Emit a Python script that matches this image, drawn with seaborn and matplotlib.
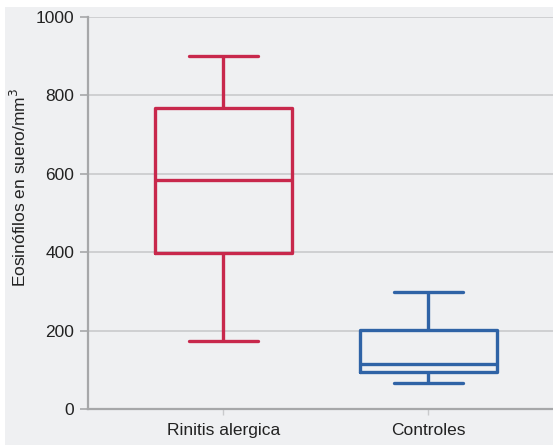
import matplotlib
matplotlib.use('Agg')

import pandas as pd
import matplotlib.pyplot as plt
import seaborn as sns
from matplotlib.patches import Rectangle

# five summary values per group (min, q1, median, q3, max)
groups = ['Rinitis alergica', 'Controles']
rinitis = [173, 398, 584, 768, 900]
controles = [66, 94, 115, 201, 298]
colors = ['#c8284c', '#2f63a6']

df = pd.DataFrame({
    'grupo': [groups[0]] * len(rinitis) + [groups[1]] * len(controles),
    'valor': rinitis + controles,
})

bg = '#eff0f2'
sns.set_theme(style='white')
plt.rcParams['font.family'] = ['Liberation Sans', 'DejaVu Sans']

fig = plt.figure(figsize=(5.53, 4.45), dpi=100, facecolor='white')
fig.add_artist(Rectangle((5 / 553, 0), 1, 1 - 7 / 445, transform=fig.transFigure,
                         facecolor=bg, edgecolor='none', zorder=-10))
ax = fig.add_axes([88 / 553, 36 / 445, 1 - 88 / 553 + 0.001, (409 - 17) / 445])
ax.set_facecolor(bg)

for i, g in enumerate(groups):
    sub = df[df['grupo'] == g]
    sns.boxplot(data=sub, x='grupo', y='valor', order=groups, ax=ax,
                whis=1.5, width=0.67, fill=False, color=colors[i],
                linewidth=2.4, showfliers=False)

ax.set_ylim(0, 1000)
ax.set_xlim(-0.66, 1.61)
ax.set_yticks([0, 200, 400, 600, 800, 1000])
ax.yaxis.grid(True, color='#c9cacc', linewidth=1.2)
ax.set_axisbelow(True)

for s in ['top', 'right']:
    ax.spines[s].set_visible(False)
for s in ['left', 'bottom']:
    ax.spines[s].set_color('#a6a7a9')
    ax.spines[s].set_linewidth(1.6)

ax.tick_params(axis='y', length=6, width=1.2, color='#a6a7a9', labelsize=12.5,
               labelcolor='#222222', pad=4, left=True)
ax.tick_params(axis='x', length=4, width=1.0, color='#c9cacc', labelsize=12.5,
               labelcolor='#222222', pad=6, bottom=True)

ax.set_xlabel('')
ax.set_ylabel('Eosinófilos en suero/mm$^3$', fontsize=12.5, color='#222222')
ax.yaxis.set_label_coords(-0.127, 0.564)

plt.savefig('out.png', dpi=100, facecolor=fig.get_facecolor())
